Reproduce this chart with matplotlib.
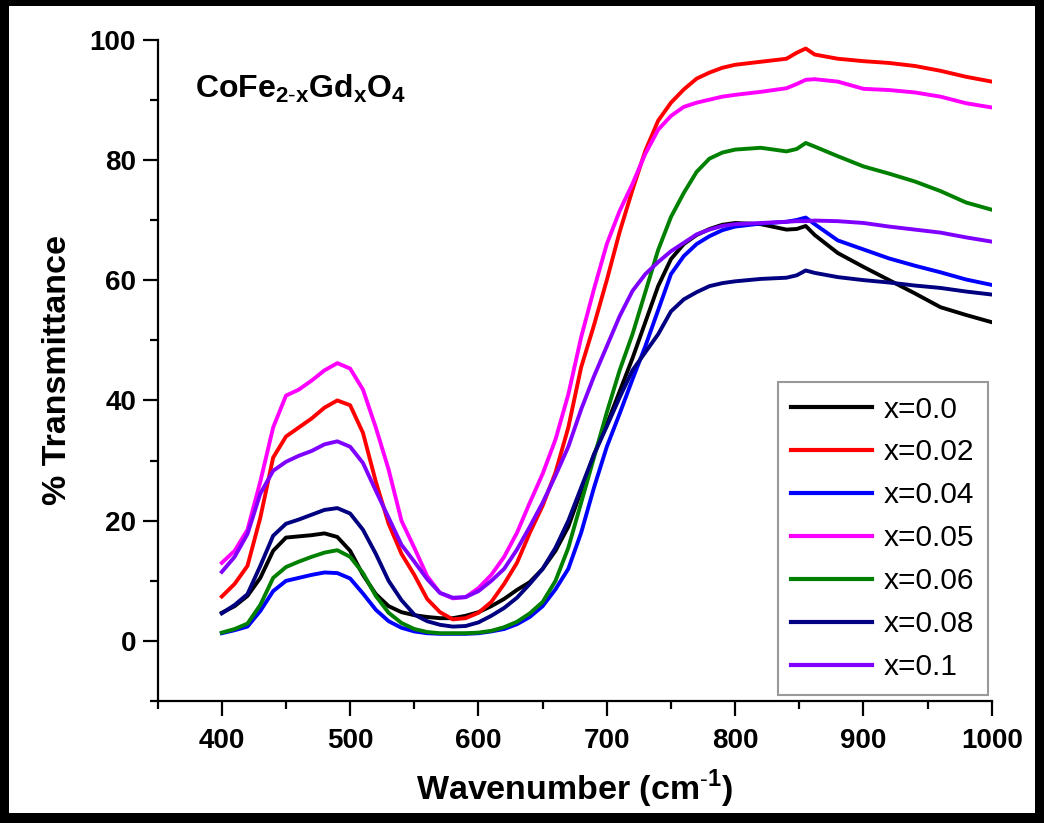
import matplotlib
matplotlib.use("Agg")
import matplotlib.pyplot as plt
from matplotlib.ticker import MultipleLocator
from matplotlib.patches import Rectangle

plt.rcParams['font.family'] = ['Liberation Sans', 'DejaVu Sans']
plt.rcParams['mathtext.fontset'] = 'custom'
plt.rcParams['mathtext.rm'] = 'Liberation Sans'
plt.rcParams['mathtext.bf'] = 'Liberation Sans:bold'

# wavenumber grid (cm-1)
wavenumber = [400, 410, 420, 430, 440, 450, 460, 470, 480, 490,
              500, 510, 520, 530, 540, 550, 560, 570, 580, 590,
              600, 610, 620, 630, 640, 650, 660, 670, 680, 690,
              700, 710, 720, 730, 740, 750, 760, 770, 780, 790,
              800, 820, 840, 848, 855, 862, 880, 900, 920, 940,
              960, 980, 1000]

# % transmittance for each Gd content
t_x000 = [4.7, 5.8, 7.5, 10.5, 15.0, 17.2, 17.4, 17.6, 17.9, 17.3,
          15.0, 11.0, 7.8, 5.8, 4.8, 4.3, 4.0, 3.8, 3.8, 4.2,
          4.8, 5.8, 7.0, 8.5, 9.8, 12.0, 15.0, 19.0, 25.0, 31.0,
          36.0, 41.5, 47.0, 53.0, 59.0, 63.5, 66.0, 67.5, 68.5, 69.2,
          69.5, 69.3, 68.4, 68.5, 69.0, 67.5, 64.5, 62.2, 60.0, 57.8,
          55.5, 54.2, 53.0]
t_x002 = [7.4, 9.5, 12.5, 20.5, 30.5, 34.0, 35.5, 37.0, 38.8, 40.0,
          39.2, 34.6, 26.5, 19.5, 14.5, 11.0, 7.0, 4.8, 3.6, 3.8,
          4.7, 6.5, 9.5, 13.0, 18.0, 22.5, 28.0, 35.5, 45.5, 52.5,
          60.0, 68.0, 75.0, 81.5, 86.5, 89.5, 91.7, 93.5, 94.5, 95.3,
          95.8, 96.3, 96.8, 97.8, 98.5, 97.5, 96.8, 96.4, 96.1, 95.6,
          94.8, 93.8, 93.0]
t_x004 = [1.3, 1.8, 2.4, 5.0, 8.3, 10.0, 10.5, 11.0, 11.4, 11.3,
          10.4, 7.9, 5.2, 3.3, 2.2, 1.6, 1.3, 1.2, 1.2, 1.2,
          1.3, 1.6, 2.0, 2.8, 4.0, 5.8, 8.6, 12.0, 18.0, 25.5,
          32.3, 37.8, 43.5, 49.0, 55.0, 61.0, 64.0, 66.0, 67.3, 68.3,
          68.9, 69.4, 69.7, 70.0, 70.4, 69.3, 66.6, 65.1, 63.6, 62.4,
          61.3, 60.1, 59.2]
t_x005 = [13.0, 15.0, 18.5, 26.5, 35.5, 40.8, 41.8, 43.3, 45.0, 46.2,
          45.3, 41.8, 35.5, 28.5, 20.0, 15.5, 10.8, 8.0, 7.1, 7.3,
          8.8, 11.0, 14.0, 18.0, 23.0, 27.8, 33.5, 41.0, 50.5, 58.5,
          66.0, 71.5, 76.0, 81.0, 85.0, 87.3, 88.8, 89.5, 90.0, 90.5,
          90.8, 91.3, 91.9, 92.6, 93.3, 93.4, 93.0, 91.8, 91.6, 91.2,
          90.5, 89.4, 88.7]
t_x006 = [1.4, 2.0, 2.9, 6.0, 10.5, 12.3, 13.2, 14.0, 14.7, 15.1,
          14.0, 11.3, 7.5, 4.7, 3.0, 2.0, 1.5, 1.3, 1.3, 1.3,
          1.4, 1.7, 2.3, 3.2, 4.6, 6.5, 10.0, 15.5, 23.0, 30.5,
          38.0, 45.0, 51.0, 58.0, 65.0, 70.5, 74.5, 78.0, 80.2, 81.2,
          81.7, 82.0, 81.4, 81.8, 82.8, 82.2, 80.6, 78.9, 77.7, 76.4,
          74.8, 72.9, 71.7]
t_x008 = [4.6, 6.0, 7.8, 12.5, 17.5, 19.5, 20.2, 21.0, 21.8, 22.1,
          21.2, 18.5, 14.5, 10.0, 6.8, 4.4, 3.3, 2.7, 2.4, 2.5,
          3.1, 4.2, 5.5, 7.2, 9.5, 12.0, 15.5, 20.0, 25.5, 31.0,
          35.7, 40.5, 45.0, 48.0, 51.0, 54.8, 56.8, 58.0, 59.0, 59.5,
          59.8, 60.2, 60.4, 60.8, 61.6, 61.2, 60.5, 60.0, 59.6, 59.1,
          58.7, 58.1, 57.6]
t_x010 = [11.5, 14.0, 17.8, 24.5, 28.3, 29.8, 30.8, 31.6, 32.7, 33.2,
          32.3, 29.6, 25.0, 20.5, 16.0, 13.2, 10.3, 8.0, 7.2, 7.3,
          8.3, 10.0, 12.0, 15.2, 19.0, 23.0, 27.5, 32.3, 38.5, 44.0,
          49.0, 54.0, 58.2, 61.0, 63.0, 64.8, 66.2, 67.6, 68.4, 69.0,
          69.3, 69.5, 69.7, 69.8, 69.8, 69.9, 69.8, 69.5, 68.9, 68.4,
          67.9, 67.1, 66.4]

labels = ['x=0.0', 'x=0.02', 'x=0.04', 'x=0.05', 'x=0.06', 'x=0.08', 'x=0.1']
colors = ['#000000', '#ff0000', '#0000ff', '#ff00ff', '#008000', '#000080', '#8000ff']
series = [t_x000, t_x002, t_x004, t_x005, t_x006, t_x008, t_x010]

fig = plt.figure(figsize=(10.44, 8.23), dpi=100)
ax = fig.add_axes([0.151, 0.148, 0.799, 0.804])

for y, c, lab in zip(series, colors, labels):
    ax.plot(wavenumber, y, color=c, lw=2.8, label=lab, solid_joinstyle='round')

ax.set_xlim(350, 1000)
ax.set_ylim(-10, 100)
ax.xaxis.set_major_locator(MultipleLocator(100))
ax.xaxis.set_minor_locator(MultipleLocator(50))
ax.yaxis.set_major_locator(MultipleLocator(20))
ax.yaxis.set_minor_locator(MultipleLocator(10))
ax.spines['top'].set_visible(False)
ax.spines['right'].set_visible(False)
for s in ['left', 'bottom']:
    ax.spines[s].set_linewidth(1.6)
ax.tick_params(which='major', direction='out', length=10.5, width=1.6, labelsize=20)
ax.tick_params(axis='x', which='major', pad=9)
ax.tick_params(axis='y', which='major', pad=5)
ax.tick_params(which='minor', direction='out', length=5.5, width=1.6)
for t in ax.get_xticklabels() + ax.get_yticklabels():
    t.set_fontweight('bold')

ax.set_xlabel(r'Wavenumber (cm$^{\mathbf{\text{-}1}}$)', fontsize=24.5, fontweight='bold', labelpad=10)
ax.set_ylabel('% Transmittance', fontsize=24.5, fontweight='bold', labelpad=12)

ax.text(0.045, 0.95, r'$\mathbf{CoFe_{2\text{-}x}Gd_{x}O_{4}}$', transform=ax.transAxes,
        fontsize=23, va='top', ha='left')

leg = ax.legend(loc='lower right', bbox_to_anchor=(0.995, 0.01), fontsize=21.5,
                frameon=True, fancybox=False, handlelength=2.7, handletextpad=0.4,
                labelspacing=0.5, borderpad=0.45, borderaxespad=0)
leg.get_frame().set_edgecolor('#808080')
leg.get_frame().set_linewidth(1.5)
for h in leg.get_lines():
    h.set_linewidth(3)

# black frame round the figure
for (x0, y0, w, h) in [(0, 0, 9 / 1044, 1), (1 - 9 / 1044, 0, 9 / 1044, 1),
                       (0, 0, 1, 10 / 823), (0, 1 - 6 / 823, 1, 6 / 823)]:
    fig.patches.append(Rectangle((x0, y0), w, h, transform=fig.transFigure,
                                 facecolor='black', edgecolor='none'))

fig.savefig('out.png', dpi=100)
